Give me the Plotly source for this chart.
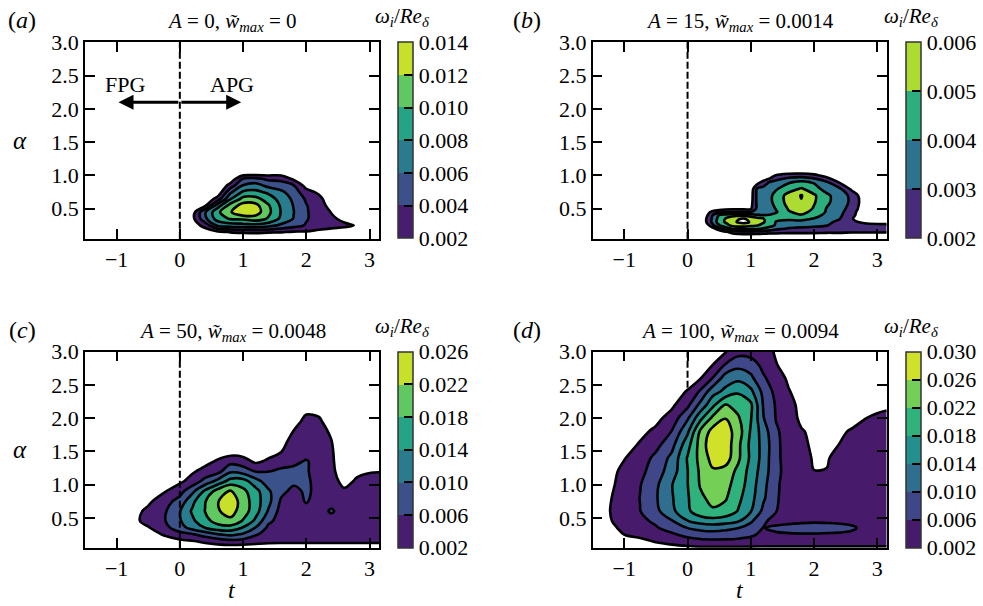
import numpy as np
import plotly.graph_objects as go
from plotly.colors import sample_colorscale

# ---------------- data: omega_i/Re_delta, in units of 1e-3 ----------------
# panel (a)  A = 0
t_a = [-1.5, 0.0, 0.2, 0.4, 0.6, 0.8, 1.0, 1.2, 1.4, 1.6, 1.8, 2.0, 2.2, 2.4, 2.6, 2.8, 3.0, 3.15]
alpha_a = [0.05, 0.15, 0.25, 0.35, 0.45, 0.55, 0.65, 0.75, 0.85, 0.95, 1.05, 1.2, 3.0]
z_a = [
    [0, 0, 0, 0, 0, 0, 0, 0, 0, 0, 0, 0, 0, 0, 0, 0, 0, 0],
    [0, 0, 0.2, 0.8, 1.6, 2.1, 2.3, 2.4, 2.2, 2.1, 1.8, 1.8, 1.6, 1.5, 1.2, 0.8, 0, 0],
    [0, 0, 0.8, 2.8, 6.4, 7.0, 7.2, 7.4, 6.8, 5.6, 4.8, 3.8, 2.8, 2.4, 2.3, 1.9, 0, 0],
    [0, 0, 1.4, 5.5, 9.0, 10.2, 10.4, 11.0, 9.8, 7.6, 5.9, 4.2, 3.0, 2.3, 1.6, 0.9, 0, 0],
    [0, 0, 1.0, 5.8, 9.6, 11.8, 13.8, 13.0, 10.5, 7.9, 6.05, 4.2, 3.0, 1.9, 0.8, 0, 0, 0],
    [0, 0, 0.3, 1.6, 7.0, 10.8, 12.8, 12.6, 10.2, 7.7, 5.9, 4.1, 2.9, 1.2, 0.3, 0, 0, 0],
    [0, 0, 0, 0.3, 2.8, 7.8, 10.6, 10.6, 9.0, 7.2, 5.6, 3.7, 2.6, 0.5, 0, 0, 0, 0],
    [0, 0, 0, 0, 0.5, 5.6, 8.3, 8.5, 7.6, 6.4, 5.0, 2.8, 1.6, 0, 0, 0, 0, 0],
    [0, 0, 0, 0, 0, 2.8, 6.1, 6.8, 5.4, 5.0, 4.1, 1.2, 0.4, 0, 0, 0, 0, 0],
    [0, 0, 0, 0, 0, 0.6, 4.1, 4.4, 3.6, 3.4, 1.6, 0.2, 0, 0, 0, 0, 0, 0],
    [0, 0, 0, 0, 0, 0, 0, 0, 0.4, 0.6, 0, 0, 0, 0, 0, 0, 0, 0],
    [0, 0, 0, 0, 0, 0, 0, 0, 0, 0, 0, 0, 0, 0, 0, 0, 0, 0],
    [0, 0, 0, 0, 0, 0, 0, 0, 0, 0, 0, 0, 0, 0, 0, 0, 0, 0],
]
levels_a = [2, 4, 6, 8, 10, 12, 14]

# panel (b)  A = 15
t_b = [-1.5, 0.2, 0.3, 0.4, 0.5, 0.6, 0.7, 0.8, 0.9, 1.0, 1.1, 1.2, 1.3, 1.4, 1.6, 1.8, 2.0, 2.2, 2.4, 2.6, 2.8, 3.0, 3.15]
alpha_b = [0.05, 0.15, 0.2, 0.25, 0.3, 0.35, 0.4, 0.45, 0.5, 0.6, 0.7, 0.8, 0.9, 1.0, 1.1, 3.0]
z_b = [
    [0, 0, 0, 0, 0, 0.5, 0.5, 0.5, 0.5, 0.5, 0.5, 0.5, 0.5, 0.5, 0.5, 0.5, 0.5, 0.5, 0.5, 0.5, 0.5, 0.5, 0.5],
    [0, 0, 0, 0.5, 1.2, 1.8, 2.3, 2.6, 2.7, 2.7, 2.6, 2.5, 2.4, 2.4, 2.3, 2.3, 2.3, 2.2, 2.2, 2.1, 2.1, 2.1, 2.1],
    [0, 0, 0.6, 1.6, 2.6, 3.4, 4.0, 4.3, 4.3, 4.2, 4.1, 3.9, 3.6, 3.2, 2.9, 2.8, 2.7, 2.6, 2.5, 2.5, 2.5, 2.4, 2.4],
    [0, 0.3, 1.5, 2.8, 3.9, 4.6, 5.2, 5.4, 5.4, 5.2, 5.05, 4.7, 4.3, 3.9, 3.4, 3.3, 3.2, 3.05, 2.6, 2.5, 2.4, 2.3, 2.3],
    [0, 0.6, 2.05, 3.3, 4.5, 5.1, 5.7, 6.1, 6.3, 5.9, 5.4, 5.1, 4.5, 3.95, 3.7, 3.8, 3.6, 3.2, 2.8, 2.2, 1.8, 1.6, 1.5],
    [0, 0.6, 2.05, 3.2, 4.4, 5.05, 5.6, 5.95, 6.05, 5.7, 5.3, 5.05, 4.5, 4.2, 4.2, 4.2, 3.95, 3.5, 3.05, 2.1, 1.0, 0.3, 0],
    [0, 0.5, 1.8, 3.1, 4.1, 4.5, 4.7, 4.8, 4.8, 4.6, 4.2, 4.05, 4.1, 4.3, 4.7, 4.9, 4.4, 3.7, 3.2, 2.3, 1.1, 0.3, 0],
    [0, 0.3, 1.5, 2.4, 2.7, 2.9, 2.95, 2.95, 2.9, 3.05, 3.2, 3.4, 3.6, 3.9, 4.9, 5.3, 4.7, 3.9, 3.3, 2.4, 1.2, 0.3, 0],
    [0, 0, 0.3, 1.0, 1.5, 1.7, 1.8, 1.8, 1.8, 1.9, 3.2, 3.4, 3.6, 4.05, 5.1, 5.6, 4.9, 3.95, 3.4, 2.6, 1.3, 0.3, 0],
    [0, 0, 0, 0, 0, 0, 0, 0, 0.2, 1.6, 3.2, 3.5, 3.8, 4.3, 5.4, 5.95, 5.1, 4.2, 3.5, 2.8, 1.4, 0.3, 0],
    [0, 0, 0, 0, 0, 0, 0, 0, 0, 1.5, 3.2, 3.5, 3.8, 4.3, 5.4, 6.05, 5.15, 4.2, 3.5, 2.75, 1.2, 0.2, 0],
    [0, 0, 0, 0, 0, 0, 0, 0, 0, 1.3, 3.1, 3.3, 3.6, 3.9, 4.5, 5.1, 4.4, 3.6, 3.2, 1.7, 0.6, 0, 0],
    [0, 0, 0, 0, 0, 0, 0, 0, 0, 0.6, 1.5, 2.4, 3.05, 3.3, 3.9, 4.2, 3.9, 3.1, 1.9, 0.8, 0.2, 0, 0],
    [0, 0, 0, 0, 0, 0, 0, 0, 0, 0, 0, 0.5, 1.2, 2.1, 2.5, 2.6, 2.3, 1.6, 0.8, 0.2, 0, 0, 0],
    [0, 0, 0, 0, 0, 0, 0, 0, 0, 0, 0, 0, 0, 0, 0.6, 0.5, 0.4, 0, 0, 0, 0, 0, 0],
    [0, 0, 0, 0, 0, 0, 0, 0, 0, 0, 0, 0, 0, 0, 0, 0, 0, 0, 0, 0, 0, 0, 0],
]
levels_b = [2, 3, 4, 5, 6]

# panel (c)  A = 50
t_c = [-1.5, -1.0, -0.75, -0.5, -0.25, 0.0, 0.2, 0.4, 0.6, 0.8, 1.0, 1.2, 1.4, 1.6, 1.8, 2.0, 2.2, 2.4, 2.6, 2.8, 3.0, 3.15]
alpha_c = [0.05, 0.15, 0.25, 0.35, 0.45, 0.6, 0.75, 0.9, 1.05, 1.2, 1.35, 1.5, 1.65, 1.8, 1.95, 2.1, 2.3, 3.0]
z_c = [
    [0, 0, 0, 0, 0, 0, 0, 0, 0, 0, 0, 0, 0, 0, 0, 0, 0, 0, 0, 0, 0, 0],
    [0, 0, 0, 0, 0, 1.2, 1.8, 2.8, 4.0, 5.0, 4.6, 3.6, 3.0, 2.8, 2.8, 2.8, 2.8, 2.8, 2.8, 2.8, 2.8, 2.8],
    [0, 0, 0, 0, 2.4, 4.5, 5.6, 7.8, 9.8, 10.8, 9.5, 6.4, 4.5, 3.6, 3.4, 3.3, 3.3, 3.3, 3.2, 3.2, 3.2, 3.2],
    [0, 0, 0, 1.7, 4.5, 8.4, 11.5, 14.1, 16.2, 16.4, 13.7, 9.8, 5.2, 4.0, 3.8, 3.7, 3.6, 3.6, 3.5, 3.4, 3.4, 3.4],
    [0, 0, 0.8, 3.3, 5.6, 9.6, 13.2, 16.7, 19.5, 21.0, 17.6, 13.0, 6.8, 4.5, 4.3, 4.0, 3.8, 4.2, 3.6, 3.4, 3.3, 3.3],
    [0, 0, 0.5, 2.9, 5.3, 9.8, 14.6, 18.1, 21.6, 23.6, 20.0, 15.6, 9.6, 4.5, 4.6, 4.8, 4.5, 6.5, 4.0, 3.8, 3.7, 3.7],
    [0, 0, 0, 1.2, 4.2, 7.5, 13.0, 17.8, 21.8, 24.5, 20.2, 15.8, 11.2, 5.5, 4.5, 6.3, 4.5, 4.6, 4.3, 4.0, 3.8, 3.8],
    [0, 0, 0, 0, 1.6, 4.5, 9.0, 14.8, 19.8, 22.5, 19.0, 15.4, 10.6, 7.0, 5.0, 6.6, 5.0, 4.8, 2.6, 3.5, 3.8, 3.8],
    [0, 0, 0, 0, 0, 1.2, 3.6, 7.4, 11.2, 15.6, 15.8, 11.5, 8.0, 7.2, 6.8, 6.5, 5.0, 3.5, 0.8, 2.5, 3.0, 3.0],
    [0, 0, 0, 0, 0, 0, 1.5, 3.3, 4.6, 9.2, 8.2, 5.8, 5.9, 6.8, 6.9, 6.3, 4.8, 2.6, 0.5, 1.2, 1.8, 1.9],
    [0, 0, 0, 0, 0, 0, 0, 0.8, 2.5, 4.6, 3.6, 1.2, 2.6, 4.2, 5.2, 6.3, 4.6, 2.4, 0.3, 0, 0, 0],
    [0, 0, 0, 0, 0, 0, 0, 0, 0, 0, 0, 0, 0.5, 1.8, 4.0, 4.5, 4.2, 2.3, 0, 0, 0, 0],
    [0, 0, 0, 0, 0, 0, 0, 0, 0, 0, 0, 0, 0, 0.8, 3.2, 4.2, 4.0, 2.05, 0, 0, 0, 0],
    [0, 0, 0, 0, 0, 0, 0, 0, 0, 0, 0, 0, 0, 0, 2.1, 3.8, 3.4, 1.4, 0, 0, 0, 0],
    [0, 0, 0, 0, 0, 0, 0, 0, 0, 0, 0, 0, 0, 0, 0.8, 2.9, 2.5, 0.5, 0, 0, 0, 0],
    [0, 0, 0, 0, 0, 0, 0, 0, 0, 0, 0, 0, 0, 0, 0, 1.6, 1.4, 0, 0, 0, 0, 0],
    [0, 0, 0, 0, 0, 0, 0, 0, 0, 0, 0, 0, 0, 0, 0, 0, 0, 0, 0, 0, 0, 0],
    [0, 0, 0, 0, 0, 0, 0, 0, 0, 0, 0, 0, 0, 0, 0, 0, 0, 0, 0, 0, 0, 0],
]
levels_c = [2, 6, 10, 14, 18, 22, 26]

# panel (d)  A = 100
t_d = [-1.5, -1.25, -1.0, -0.75, -0.5, -0.25, 0.0, 0.2, 0.4, 0.6, 0.8, 1.0, 1.2, 1.4, 1.6, 1.8, 2.0, 2.2, 2.4, 2.6, 2.8, 3.0, 3.15]
alpha_d = [0.05, 0.15, 0.25, 0.35, 0.45, 0.6, 0.8, 1.0, 1.2, 1.4, 1.6, 1.8, 2.0, 2.2, 2.4, 2.6, 2.8, 3.0]
z_d = [
    [0, 0, 0, 0, 0.3, 0.8, 1.2, 1.5, 1.5, 1.5, 1.5, 1.5, 1.5, 1.5, 1.5, 1.5, 1.5, 1.5, 1.5, 1.5, 1.5, 1.5, 1.5],
    [0, 0, 0, 1.0, 2.4, 3.4, 4.4, 5.0, 5.2, 5.2, 5.0, 4.6, 4.2, 4.0, 4.0, 4.0, 4.0, 4.0, 4.0, 4.0, 4.0, 4.0, 4.0],
    [0, 0, 2.05, 3.2, 4.2, 5.4, 7.2, 8.2, 8.6, 8.4, 7.8, 6.8, 5.0, 5.5, 5.7, 5.8, 5.8, 5.7, 5.6, 5.3, 4.6, 4.3, 4.2],
    [0, 0.8, 3.0, 4.2, 5.6, 7.8, 10.1, 11.2, 11.6, 11.0, 10.2, 8.2, 5.9, 6.8, 7.2, 7.4, 7.4, 7.3, 7.1, 6.6, 5.0, 4.4, 4.3],
    [0, 1.6, 3.4, 4.9, 6.8, 9.6, 13.8, 15.6, 16.4, 15.8, 14.4, 10.6, 6.6, 4.6, 5.0, 5.4, 5.6, 5.5, 5.3, 4.8, 4.2, 4.0, 4.0],
    [0, 1.8, 3.8, 5.9, 9.0, 13.0, 17.2, 20.4, 21.5, 20.6, 17.8, 14.2, 9.0, 6.1, 4.5, 4.4, 4.3, 4.3, 4.3, 4.3, 4.3, 4.3, 4.3],
    [0, 1.6, 3.6, 6.1, 9.6, 13.6, 17.6, 21.2, 23.2, 22.4, 19.0, 15.4, 10.6, 6.4, 4.5, 4.4, 4.3, 4.2, 4.2, 4.2, 4.2, 4.2, 4.2],
    [0, 1.2, 3.2, 5.8, 9.2, 13.8, 17.9, 22.3, 24.6, 23.3, 20.2, 16.0, 11.2, 6.6, 4.4, 4.2, 3.8, 3.8, 4.0, 4.0, 4.0, 4.0, 4.0],
    [0, 0.6, 3.0, 4.9, 8.0, 12.0, 17.9, 22.6, 25.5, 24.5, 21.0, 16.5, 12.0, 7.0, 4.5, 3.8, 2.05, 2.1, 3.2, 3.6, 3.8, 3.9, 3.9],
    [0, 0, 1.8, 4.0, 7.0, 11.0, 18.3, 23.2, 27.5, 28.0, 22.8, 17.2, 12.5, 6.8, 4.5, 3.5, 1.6, 1.7, 3.0, 3.5, 3.7, 3.8, 3.8],
    [0, 0, 0.4, 2.4, 4.8, 8.6, 16.5, 23.5, 29.0, 28.5, 23.0, 17.0, 12.6, 7.0, 4.0, 3.0, 1.2, 1.0, 2.05, 3.2, 3.5, 3.6, 3.6],
    [0, 0, 0, 1.0, 2.8, 6.1, 13.2, 22.5, 27.5, 28.0, 24.0, 17.6, 12.0, 6.5, 4.5, 2.3, 1.2, 1.0, 1.5, 2.3, 3.0, 3.2, 3.2],
    [0, 0, 0, 0, 0.9, 3.6, 9.4, 16.8, 23.0, 25.9, 22.5, 18.3, 10.2, 5.8, 3.8, 1.2, 0, 0, 0, 1.0, 1.9, 2.6, 2.8],
    [0, 0, 0, 0, 0, 1.2, 5.0, 11.0, 17.0, 22.3, 20.5, 18.8, 9.6, 5.6, 3.4, 0.8, 0, 0, 0, 0, 0.3, 1.0, 1.4],
    [0, 0, 0, 0, 0, 0, 2.3, 6.5, 12.5, 15.0, 17.5, 15.0, 8.8, 4.8, 2.3, 0, 0, 0, 0, 0, 0, 0, 0],
    [0, 0, 0, 0, 0, 0, 0, 1.8, 6.2, 12.0, 13.0, 11.0, 6.5, 4.2, 1.2, 0, 0, 0, 0, 0, 0, 0, 0],
    [0, 0, 0, 0, 0, 0, 0, 0, 2.05, 6.4, 8.8, 7.8, 5.0, 2.2, 0.5, 0, 0, 0, 0, 0, 0, 0, 0],
    [0, 0, 0, 0, 0, 0, 0, 0, 0, 1.8, 4.5, 4.5, 3.8, 1.5, 0, 0, 0, 0, 0, 0, 0, 0, 0],
]
levels_d = [2, 6, 10, 14, 18, 22, 26, 30]

titles = [
    "<i>A</i> = 0, <i>w̃</i><sub><i>max</i></sub> = 0",
    "<i>A</i> = 15, <i>w̃</i><sub><i>max</i></sub> = 0.0014",
    "<i>A</i> = 50, <i>w̃</i><sub><i>max</i></sub> = 0.0048",
    "<i>A</i> = 100, <i>w̃</i><sub><i>max</i></sub> = 0.0094",
]
panel_labels = ["(<i>a</i>)", "(<i>b</i>)", "(<i>c</i>)", "(<i>d</i>)"]
x_ticks = [-1, 0, 1, 2, 3]
y_ticks = [0.5, 1.0, 1.5, 2.0, 2.5, 3.0]

# ---------------- layout geometry (pixels of a 983x606 page) ----------------
W, H = 983, 606
FONT = "Liberation Serif, Times New Roman, serif"
SCALE = 1e-3
TICK_FONT = dict(family=FONT, size=22, color="black")

def px_x(p):
    return p / W

def px_y(p):
    return 1 - p / H

panels = [
    dict(t=t_a, al=alpha_a, z=z_a, lv=levels_a, x0=85, x1=379, y0=42.3, y1=238.7, cbx=397.7),
    dict(t=t_b, al=alpha_b, z=z_b, lv=levels_b, x0=592.7, x1=886.7, y0=42.3, y1=238.7, cbx=906),
    dict(t=t_c, al=alpha_c, z=z_c, lv=levels_c, x0=85, x1=379, y0=351.7, y1=547.7, cbx=397.7),
    dict(t=t_d, al=alpha_d, z=z_d, lv=levels_d, x0=592.7, x1=886.7, y0=351.7, y1=547.7, cbx=906),
]

fig = go.Figure()
layout = dict(
    width=W, height=H, margin=dict(l=0, r=0, t=0, b=0, autoexpand=False),
    paper_bgcolor="white", plot_bgcolor="white",
    font=dict(family=FONT, color="black", size=21),
    showlegend=False, annotations=[], shapes=[],
)

LINE = dict(color="black", width=2.6, smoothing=1.0)

for k, p in enumerate(panels):
    sx = "" if k == 0 else str(k + 1)
    xa, ya = "x" + sx, "y" + sx
    lv = p["lv"]
    n = len(lv) - 1
    cols = sample_colorscale("Viridis", [(i + 0.5) / n for i in range(n)])
    z = np.array(p["z"], dtype=float) * SCALE

    # filled bands: plotly shades the region that violates the constraint,
    # so "<" L shades z >= L
    for i in range(n):
        fig.add_trace(go.Contour(
            x=p["t"], y=p["al"], z=z, xaxis=xa, yaxis=ya,
            contours=dict(type="constraint", operation="<", value=lv[i] * SCALE),
            fillcolor=cols[i], line=LINE, showscale=False, hoverinfo="skip",
        ))
    if z.max() > lv[-1] * SCALE:
        fig.add_trace(go.Contour(
            x=p["t"], y=p["al"], z=z, xaxis=xa, yaxis=ya,
            contours=dict(type="constraint", operation="<", value=lv[-1] * SCALE),
            fillcolor="white", line=LINE, showscale=False, hoverinfo="skip",
        ))

    # discrete colour bar
    cscale = []
    for i in range(n):
        cscale.append([i / n, cols[i]])
        cscale.append([(i + 1) / n, cols[i]])
    fig.add_trace(go.Scatter(
        x=[None], y=[None], mode="markers", xaxis=xa, yaxis=ya, hoverinfo="skip",
        marker=dict(color=[lv[0] * SCALE], cmin=lv[0] * SCALE, cmax=lv[-1] * SCALE,
                    colorscale=cscale, showscale=True,
                    colorbar=dict(
                        x=px_x(p["cbx"]), xanchor="left", y=px_y(p["y0"]), yanchor="top",
                        len=(p["y1"] - p["y0"]) / H, lenmode="fraction",
                        thickness=15, thicknessmode="pixels", xpad=0, ypad=0,
                        outlinewidth=1.5, outlinecolor="#333",
                        tickvals=[v * SCALE for v in lv],
                        ticktext=["%.3f" % (v * SCALE) for v in lv],
                        ticks="inside", ticklen=9, tickwidth=2, tickcolor="black",
                        tickfont=TICK_FONT,
                    )),
    ))

    axis_common = dict(showgrid=False, zeroline=False, showline=True, linecolor="black",
                       linewidth=1.5, mirror="ticks", ticks="inside", ticklen=10,
                       tickwidth=1.5, tickcolor="black", tickfont=TICK_FONT)
    layout["xaxis" + sx] = dict(axis_common, domain=[px_x(p["x0"]), px_x(p["x1"])],
                                range=[-1.5, 3.15], tickvals=x_ticks, anchor=ya)
    layout["yaxis" + sx] = dict(axis_common, domain=[px_y(p["y1"]), px_y(p["y0"])],
                                range=[0.05, 3.0], tickvals=y_ticks,
                                ticktext=["%.1f" % v for v in y_ticks], anchor=xa)

    # dashed line at t = 0
    layout["shapes"].append(dict(type="line", xref=xa, yref=ya + " domain", x0=0, x1=0, y0=0, y1=1,
                                 line=dict(color="black", width=2, dash="7px,3px"),
                                 layer="below" if k == 3 else "above"))

    cx = (p["x0"] + p["x1"]) / 2
    ann = layout["annotations"]
    base = dict(xref="paper", yref="paper", showarrow=False, xanchor="center", yanchor="middle")
    ann.append(dict(base, text=titles[k], x=px_x(cx), y=px_y(p["y0"] - 20), font=dict(size=21)))
    ann.append(dict(base, text=panel_labels[k], x=px_x(22 if k % 2 == 0 else 527),
                    y=px_y(p["y0"] - 22), font=dict(size=24)))
    ann.append(dict(base, text="<i>ω<sub>i</sub></i>/<i>Re<sub>δ</sub></i>",
                    x=px_x(p["cbx"] + 5), y=px_y(p["y0"] - 25), font=dict(size=21)))
    if k % 2 == 0:
        ann.append(dict(base, text="<i>α</i>", x=px_x(20), y=px_y((p["y0"] + p["y1"]) / 2),
                        font=dict(size=25)))
    if k >= 2:
        ann.append(dict(base, text="<i>t</i>", x=px_x(cx), y=px_y(590), font=dict(size=24)))

# FPG / APG annotation in panel (a)
layout["annotations"] += [
    dict(text="FPG", x=-0.86, y=2.37, xref="x", yref="y", showarrow=False, font=dict(size=22)),
    dict(text="APG", x=0.83, y=2.37, xref="x", yref="y", showarrow=False, font=dict(size=22)),
    dict(text="", x=-0.97, y=2.1, ax=0, ay=2.1, xref="x", yref="y", axref="x", ayref="y",
         showarrow=True, arrowhead=2, arrowsize=1, arrowwidth=3, arrowcolor="black"),
    dict(text="", x=0.97, y=2.1, ax=0, ay=2.1, xref="x", yref="y", axref="x", ayref="y",
         showarrow=True, arrowhead=2, arrowsize=1, arrowwidth=3, arrowcolor="black"),
]

fig.update_layout(**layout)
fig.write_html("out.html")
